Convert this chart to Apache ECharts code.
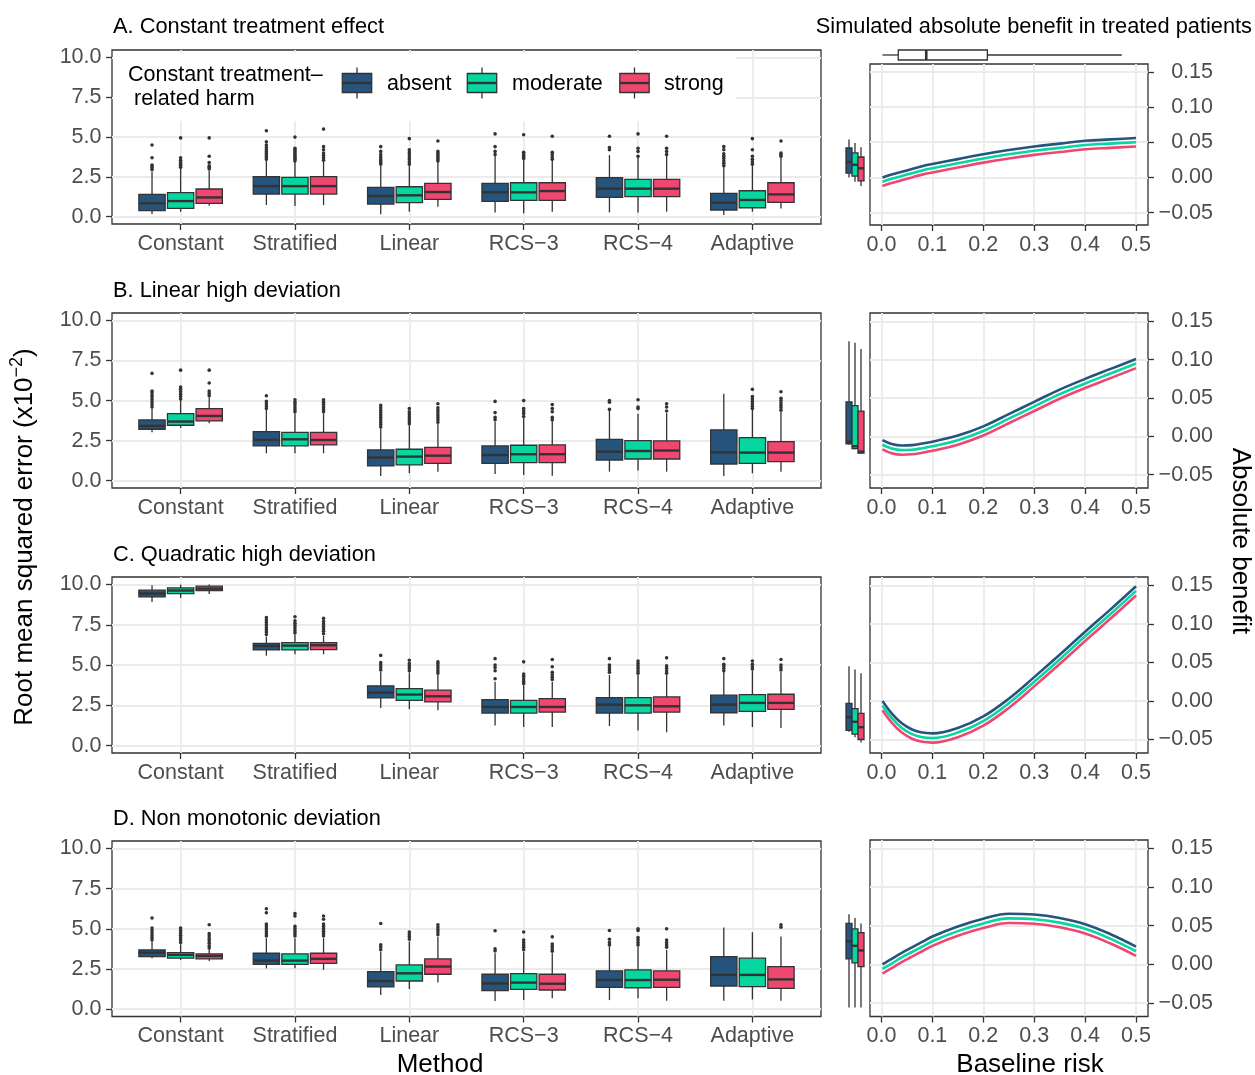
<!DOCTYPE html>
<html><head><meta charset="utf-8">
<script src="https://cdn.jsdelivr.net/npm/echarts@6/dist/echarts.min.js"></script>
<style>html,body{margin:0;padding:0;background:#fff}#c{width:1255px;height:1075px}</style>
</head><body><div id="c"></div>
<script>
// ---------- categories / labels ----------
const methods = ['Constant','Stratified','Linear','RCS\u22123','RCS\u22124','Adaptive'];
const harmLevels = ['absent','moderate','strong'];
const harmColors = ['#26547C','#06D6A0','#EF476F'];
const panelTitles = ['A. Constant treatment effect','B. Linear high deviation','C. Quadratic high deviation','D. Non monotonic deviation'];
const rightTitle = 'Simulated absolute benefit in treated patients';
const rmseTicks = [0, 2.5, 5, 7.5, 10];
const riskTicks = [0, 0.1, 0.2, 0.3, 0.4, 0.5];
const benefitTicks = [-0.05, 0, 0.05, 0.10, 0.15];

// ---------- box statistics [lower whisker, Q1, median, Q3, upper whisker], RMSE x10^-2 ----------
const boxA_absent   = [[0.17,0.38,0.84,1.40,2.82],[0.73,1.42,1.92,2.51,3.51],[0.15,0.79,1.30,1.84,3.18],[0.27,0.96,1.53,2.09,3.87],[0.27,1.21,1.76,2.45,3.87],[0.10,0.42,0.88,1.46,3.14]];
const boxA_moderate = [[0.31,0.52,0.98,1.51,3.03],[0.67,1.42,1.92,2.47,3.45],[0.31,0.88,1.34,1.88,3.24],[0.21,1.03,1.53,2.13,3.60],[0.27,1.26,1.76,2.34,3.77],[0.31,0.56,1.05,1.63,3.24]];
const boxA_strong   = [[0.69,0.84,1.21,1.74,2.89],[0.73,1.42,1.92,2.51,3.51],[0.63,1.09,1.55,2.09,3.45],[0.31,1.03,1.61,2.13,3.56],[0.31,1.26,1.76,2.34,3.87],[0.52,0.90,1.40,2.13,3.77]];
const boxB_absent   = [[3.02,3.21,3.42,3.79,4.52],[1.71,2.17,2.54,3.06,4.42],[0.29,0.92,1.44,1.92,3.27],[0.42,1.08,1.60,2.17,3.69],[0.56,1.29,1.81,2.58,4.35],[0.29,1.04,1.77,3.17,5.42]];
const boxB_moderate = [[3.29,3.46,3.69,4.19,5.04],[1.71,2.17,2.58,3.02,4.21],[0.46,0.98,1.50,1.96,3.48],[0.35,1.13,1.65,2.21,3.90],[0.63,1.35,1.85,2.50,4.17],[0.46,1.08,1.75,2.69,4.42]];
const boxB_strong   = [[3.58,3.73,4.04,4.50,5.21],[1.71,2.23,2.54,3.02,4.21],[0.56,1.08,1.56,2.08,3.58],[0.31,1.13,1.65,2.23,3.73],[0.56,1.35,1.88,2.48,4.21],[0.56,1.19,1.75,2.44,4.31]];
const boxC_absent   = [[8.92,9.23,9.44,9.65,9.96],[5.58,5.94,6.19,6.35,6.77],[2.33,2.96,3.29,3.71,4.58],[1.25,2.02,2.40,2.85,3.96],[1.21,2.02,2.54,2.98,4.38],[1.25,2.04,2.54,3.13,4.58]];
const boxC_moderate = [[9.17,9.44,9.63,9.79,10.0],[5.67,5.94,6.21,6.40,6.88],[2.25,2.81,3.17,3.54,4.54],[1.15,2.02,2.40,2.81,3.75],[0.94,2.02,2.50,2.98,4.38],[1.15,2.13,2.65,3.17,4.63]];
const boxC_strong   = [[9.42,9.63,9.75,9.90,10.0],[5.67,5.96,6.23,6.40,6.81],[2.19,2.71,3.06,3.44,4.38],[1.15,2.08,2.40,2.92,3.96],[0.83,2.08,2.44,3.02,4.38],[1.10,2.25,2.65,3.19,4.58]];
const boxD_absent   = [[3.17,3.27,3.52,3.69,4.21],[2.54,2.79,3.02,3.48,4.42],[0.88,1.38,1.75,2.33,3.58],[0.50,1.15,1.60,2.17,3.48],[0.56,1.35,1.81,2.38,3.90],[0.52,1.44,2.13,3.27,5.08]];
const boxD_moderate = [[3.06,3.17,3.38,3.52,4.04],[2.54,2.79,3.02,3.44,4.42],[1.25,1.75,2.23,2.75,4.21],[0.56,1.23,1.65,2.21,3.58],[0.67,1.33,1.81,2.44,3.90],[0.60,1.40,2.13,3.17,4.79]];
const boxD_strong   = [[3.00,3.13,3.31,3.44,3.69],[2.44,2.85,3.13,3.48,4.42],[1.65,2.17,2.65,3.13,4.52],[0.67,1.19,1.58,2.17,3.48],[0.52,1.35,1.83,2.38,3.69],[0.52,1.29,1.85,2.65,4.52]];

// ---------- outliers per method ----------
const outA_absent   = [[2.95,3.05,3.15,3.25,3.7,4.5],[3.6,3.7,3.8,3.9,4.0,4.1,4.2,4.35,4.5,4.7,5.4],[3.3,3.4,3.5,3.6,3.75,3.9,4.1,4.4],[3.9,4.1,4.4,5.2],[4.2,4.35,5.05],[3.2,3.35,3.5,3.65,3.8,3.95,4.2,4.4]];
const outA_moderate = [[3.1,3.2,3.3,3.4,3.55,3.7,4.95],[3.5,3.6,3.7,3.8,3.9,4.0,4.1,4.2,4.3,5.0],[3.3,3.45,3.6,3.75,3.9,4.05,4.2,4.9],[3.65,3.75,3.85,3.95,4.05,5.15],[3.8,4.1,4.3,5.2],[3.3,3.45,3.6,3.8,4.2,4.9]];
const outA_strong   = [[3.0,3.1,3.2,3.4,3.8,4.95],[3.55,3.7,3.85,4.0,4.2,4.4,5.5],[3.5,3.6,3.7,3.8,3.9,4.0,4.1,4.75],[3.6,3.75,3.9,4.05,5.05],[3.9,4.1,4.3,5.05],[3.8,3.9,4.0,4.75]];
const outB_absent   = [[4.6,4.75,4.9,5.05,5.2,5.35,5.5,5.6,6.7],[4.5,4.65,4.8,4.95,5.3],[3.35,3.5,3.65,3.8,3.95,4.1,4.25,4.4,4.55,4.7],[3.8,3.95,4.25,4.95],[4.45,4.9,5.0],[]];
const outB_moderate = [[5.1,5.25,5.4,5.55,5.7,5.85,6.9],[4.3,4.45,4.6,4.75,4.9,5.05],[3.55,3.7,3.85,4.0,4.15,4.3,4.5],[4.0,4.2,4.35,4.5,5.0],[4.5,4.6,5.05],[4.5,4.65,4.8,4.95,5.1,5.25,5.7]];
const outB_strong   = [[5.3,5.45,5.6,6.1,6.9],[4.3,4.45,4.6,4.75,4.9,5.05],[3.65,3.8,3.95,4.1,4.25,4.4,4.55,4.8],[3.8,3.95,4.3,4.5,4.75],[4.35,4.6,4.8],[4.4,4.55,4.7,4.85,5.0,5.15,5.55]];
const outC_absent   = [[],[6.9,7.05,7.2,7.35,7.5,7.65,7.8,7.95],[4.7,4.85,5.0,5.15,5.6],[4.15,4.65,4.85,5.0,5.4],[4.55,4.7,4.85,5.0,5.4],[4.65,4.8,4.95,5.05,5.4]];
const outC_moderate = [[],[7.0,7.15,7.3,7.45,7.6,7.75,8.0],[4.65,4.8,4.95,5.1,5.3],[3.85,4.0,4.15,4.3,4.45,5.2],[4.5,4.65,4.8,4.95,5.1,5.25],[4.75,4.9,5.05,5.25]];
const outC_strong   = [[],[6.95,7.1,7.25,7.4,7.55,7.7,7.9],[4.5,4.65,4.8,4.95,5.1,5.2],[4.1,4.25,4.4,4.55,4.9,5.35],[4.5,4.65,4.8,4.95,5.45],[4.7,4.85,5.0,5.35]];
const outD_absent   = [[4.3,4.45,4.6,4.75,4.9,5.05,5.67],[4.55,4.7,4.85,5.0,5.15,5.3,6.0,6.25],[3.7,3.85,4.0,5.33],[3.62,3.75,4.88],[4.0,4.15,4.35,4.9],[]];
const outD_moderate = [[4.15,4.3,4.45,4.6,4.75,4.9,5.05],[4.55,4.7,4.85,5.0,5.15,5.8,5.95],[4.35,4.5,4.65,4.8],[3.7,3.85,4.0,4.15,4.3,4.8],[4.0,4.15,4.3,4.45,4.9,5.0],[]];
const outD_strong   = [[3.8,3.95,4.1,4.25,4.4,4.55,4.7,5.25],[4.55,4.7,4.85,5.0,5.15,5.3,5.6,5.8],[4.65,4.8,4.95,5.1,5.25],[3.6,3.75,3.9,4.05,4.5],[3.85,4.0,4.15,4.3,5.0],[5.1,5.25]];

// ---------- absolute benefit curves ----------
const riskGrid = [0.002,0.02,0.04,0.06,0.08,0.1,0.15,0.2,0.25,0.3,0.35,0.4,0.45,0.5];
const benefitA_absent   = [0.000,0.004,0.008,0.012,0.016,0.019,0.026,0.033,0.039,0.044,0.048,0.052,0.054,0.056];
const benefitA_moderate = [-0.006,-0.002,0.002,0.006,0.010,0.013,0.020,0.027,0.033,0.038,0.042,0.046,0.048,0.050];
const benefitA_strong   = [-0.012,-0.008,-0.004,0.000,0.004,0.007,0.014,0.021,0.027,0.032,0.036,0.040,0.042,0.044];
const benefitB_absent   = [-0.005,-0.010,-0.012,-0.0115,-0.0095,-0.007,0.001,0.013,0.029,0.045,0.061,0.075,0.088,0.101];
const benefitB_moderate = [-0.011,-0.016,-0.018,-0.0175,-0.0155,-0.013,-0.005,0.007,0.023,0.039,0.055,0.069,0.082,0.095];
const benefitB_strong   = [-0.017,-0.022,-0.024,-0.0235,-0.0215,-0.019,-0.011,0.001,0.017,0.033,0.049,0.063,0.076,0.089];
const benefitC_absent   = [0.000,-0.016,-0.029,-0.037,-0.041,-0.042,-0.035,-0.020,0.003,0.031,0.060,0.090,0.119,0.149];
const benefitC_moderate = [-0.006,-0.022,-0.035,-0.043,-0.047,-0.048,-0.041,-0.026,-0.003,0.025,0.054,0.084,0.113,0.143];
const benefitC_strong   = [-0.012,-0.028,-0.041,-0.049,-0.053,-0.054,-0.047,-0.032,-0.009,0.019,0.048,0.078,0.107,0.137];
const benefitD_absent   = [0.000,0.007,0.015,0.022,0.029,0.036,0.049,0.059,0.0655,0.0645,0.060,0.052,0.039,0.023];
const benefitD_moderate = [-0.006,0.001,0.009,0.016,0.023,0.030,0.043,0.053,0.0595,0.0585,0.054,0.046,0.033,0.017];
const benefitD_strong   = [-0.012,-0.005,0.003,0.010,0.017,0.024,0.037,0.047,0.0535,0.0525,0.048,0.040,0.027,0.011];

// ---------- marginal distributions of benefit (absent, moderate, strong) ----------
const margA = [[0.000,0.006,0.022,0.042,0.054],[-0.006,0.002,0.018,0.035,0.049],[-0.012,-0.005,0.013,0.029,0.043]];
const margB = [[-0.011,-0.010,-0.007,0.045,0.124],[-0.017,-0.016,-0.013,0.040,0.122],[-0.023,-0.022,-0.020,0.033,0.114]];
const margC = [[-0.040,-0.038,-0.021,-0.003,0.045],[-0.047,-0.043,-0.027,-0.010,0.041],[-0.054,-0.050,-0.034,-0.016,0.036]];
const margD = [[-0.056,0.007,0.030,0.053,0.065],[-0.056,0.002,0.024,0.046,0.060],[-0.056,-0.003,0.018,0.041,0.053]];
// baseline risk distribution
const riskBox = [0.002,0.033,0.088,0.208,0.472];

// ---------- assembly ----------
const rows = [
  {box:[boxA_absent,boxA_moderate,boxA_strong], out:[outA_absent,outA_moderate,outA_strong], ben:[benefitA_absent,benefitA_moderate,benefitA_strong], marg:margA},
  {box:[boxB_absent,boxB_moderate,boxB_strong], out:[outB_absent,outB_moderate,outB_strong], ben:[benefitB_absent,benefitB_moderate,benefitB_strong], marg:margB},
  {box:[boxC_absent,boxC_moderate,boxC_strong], out:[outC_absent,outC_moderate,outC_strong], ben:[benefitC_absent,benefitC_moderate,benefitC_strong], marg:margC},
  {box:[boxD_absent,boxD_moderate,boxD_strong], out:[outD_absent,outD_moderate,outD_strong], ben:[benefitD_absent,benefitD_moderate,benefitD_strong], marg:margD}
];

const FONT = '"Liberation Sans", Arial, Helvetica, sans-serif';
const INK = '#333333', TICKTXT = '#4D4D4D', GRIDC = '#EBEBEB';
const FS = 21.5, FS_HEAD = 21.8, FS_TITLE = 26;
const leftPanels  = [{top:50,height:174},{top:313,height:175},{top:577,height:176},{top:841,height:175.5}];
const rightPanels = [{top:64,height:161},{top:313,height:175},{top:577,height:176},{top:840,height:176.5}];
const titleTops = [16, 280, 544, 808];

function boxRenderer(offset, halfW, colorOf, outs){
  return function(params, api){
    const x = api.value(0) + offset;
    const lo = api.coord([x, api.value(1)]), q1 = api.coord([x, api.value(2)]);
    const md = api.coord([x, api.value(3)]), q3 = api.coord([x, api.value(4)]);
    const hi = api.coord([x, api.value(5)]);
    const l = api.coord([x - halfW, api.value(3)])[0], r = api.coord([x + halfW, api.value(3)])[0];
    const color = colorOf(params.dataIndex);
    const ch = [
      {type:'line', shape:{x1:lo[0], y1:lo[1], x2:lo[0], y2:q1[1]}, style:{stroke:INK, lineWidth:1.3}},
      {type:'line', shape:{x1:hi[0], y1:hi[1], x2:hi[0], y2:q3[1]}, style:{stroke:INK, lineWidth:1.3}},
      {type:'rect', shape:{x:l, y:q3[1], width:r-l, height:q1[1]-q3[1]}, style:{fill:color, stroke:INK, lineWidth:1.3}},
      {type:'line', shape:{x1:l, y1:md[1], x2:r, y2:md[1]}, style:{stroke:INK, lineWidth:2.4}}
    ];
    if (outs) outs[params.dataIndex].forEach(v => {
      const p = api.coord([x, v]);
      ch.push({type:'circle', shape:{cx:p[0], cy:p[1], r:1.8}, style:{fill:INK}});
    });
    return {type:'group', children:ch};
  };
}

const grids = [], xAxes = [], yAxes = [], series = [];
const tickLbl = {color:TICKTXT, fontSize:FS, fontFamily:FONT};
const noLine = {show:false, onZero:false};
const tickStyle = {color:INK, width:1.3};
const gridLineStyle = {color:GRIDC, width:1.8};

leftPanels.forEach((p, r) => {
  grids.push({left:112, width:709, top:p.top, height:p.height, show:true, borderColor:INK, borderWidth:1.3, backgroundColor:'#fff'});
  xAxes.push({gridIndex:r, type:'value', position:'bottom', min:0.4, max:6.6,
    axisLine:noLine,
    axisTick:{show:true, inside:false, length:6, lineStyle:tickStyle, customValues:[1,2,3,4,5,6]},
    axisLabel:Object.assign({customValues:[1,2,3,4,5,6], margin:9, formatter:v => methods[Math.round(v)-1]}, tickLbl),
    splitLine:{show:true, lineStyle:gridLineStyle}});
  yAxes.push({gridIndex:r, type:'value', position:'left', min:-0.46, max:10.47,
    axisLine:noLine,
    axisTick:{show:true, inside:false, length:6, lineStyle:tickStyle, customValues:rmseTicks},
    axisLabel:Object.assign({customValues:rmseTicks, margin:10.5, formatter:v => v.toFixed(1)}, tickLbl),
    splitLine:{show:true, lineStyle:gridLineStyle}});
});
rightPanels.forEach((p, r) => {
  grids.push({left:870, width:278, top:p.top, height:p.height, show:true, borderColor:INK, borderWidth:1.3, backgroundColor:'#fff'});
  xAxes.push({gridIndex:4+r, type:'value', position:'bottom', min:-0.0225, max:0.5235,
    axisLine:noLine,
    axisTick:{show:true, inside:false, length:6, lineStyle:tickStyle, customValues:riskTicks},
    axisLabel:Object.assign({customValues:riskTicks, margin:9, formatter:v => v.toFixed(1)}, tickLbl),
    splitLine:{show:true, lineStyle:gridLineStyle}});
  yAxes.push({gridIndex:4+r, type:'value', position:'right', min:-0.0675, max:0.161,
    axisLine:noLine,
    axisTick:{show:true, inside:false, length:6, lineStyle:tickStyle, customValues:benefitTicks},
    axisLabel:Object.assign({customValues:benefitTicks, margin:65, align:'right',
      formatter:v => (v < -1e-9 ? '\u2212' : '') + Math.abs(v).toFixed(2)}, tickLbl),
    splitLine:{show:true, lineStyle:gridLineStyle}});
});
rightPanels.forEach((p, r) => {
  grids.push({left:843, width:24, top:p.top, height:p.height});
  xAxes.push({gridIndex:8+r, type:'value', min:0, max:4, show:false});
  yAxes.push({gridIndex:8+r, type:'value', min:-0.0675, max:0.161, show:false});
});
grids.push({left:870, width:278, top:45, height:20});
xAxes.push({gridIndex:12, type:'value', min:-0.0225, max:0.5235, show:false});
yAxes.push({gridIndex:12, type:'value', min:0, max:2, show:false});

rows.forEach((row, r) => {
  harmLevels.forEach((lvl, g) => {
    series.push({type:'custom', name:lvl, xAxisIndex:r, yAxisIndex:r, z:3, silent:true,
      data: row.box[g].map((s, i) => [i+1].concat(s)),
      renderItem: boxRenderer((g-1)*0.25, 0.115, () => harmColors[g], row.out[g])});
    series.push({type:'line', name:lvl, xAxisIndex:4+r, yAxisIndex:4+r, z:3, silent:true,
      data: riskGrid.map((x, i) => [x, row.ben[g][i]]),
      smooth:0.4, showSymbol:false, symbol:'none',
      lineStyle:{width:2.6, color:harmColors[g]}, itemStyle:{color:harmColors[g]}});
  });
  series.push({type:'custom', xAxisIndex:8+r, yAxisIndex:8+r, z:3, silent:true,
    data: row.marg.map((s, g) => [g+1].concat(s)),
    renderItem: boxRenderer(0, 0.5, i => harmColors[i], null)});
});
series.push({type:'custom', xAxisIndex:12, yAxisIndex:12, silent:true, data:[riskBox],
  renderItem: function(params, api){
    const lo = api.coord([api.value(0), 1]), q1 = api.coord([api.value(1), 1]);
    const md = api.coord([api.value(2), 1]), q3 = api.coord([api.value(3), 1]);
    const hi = api.coord([api.value(4), 1]);
    const t = api.coord([api.value(2), 1.5])[1], b = api.coord([api.value(2), 0.5])[1];
    return {type:'group', children:[
      {type:'line', shape:{x1:lo[0], y1:lo[1], x2:q1[0], y2:lo[1]}, style:{stroke:INK, lineWidth:1.3}},
      {type:'line', shape:{x1:q3[0], y1:lo[1], x2:hi[0], y2:lo[1]}, style:{stroke:INK, lineWidth:1.3}},
      {type:'rect', shape:{x:q1[0], y:t, width:q3[0]-q1[0], height:b-t}, style:{fill:'#fff', stroke:INK, lineWidth:1.3}},
      {type:'line', shape:{x1:md[0], y1:t, x2:md[0], y2:b}, style:{stroke:INK, lineWidth:2.6}}
    ]};
  }});

const titles = panelTitles.map((t, i) => ({text:t, left:113, top:titleTops[i], padding:0,
  textStyle:{fontSize:FS_HEAD, fontWeight:'normal', color:'#000', fontFamily:FONT, lineHeight:22}}));
titles.push({text:rightTitle, right:3, top:titleTops[0], padding:0,
  textStyle:{fontSize:FS_HEAD, fontWeight:'normal', color:'#000', fontFamily:FONT, lineHeight:22}});

// legend (drawn as graphic, inside panel A)
const legendCenters = [357, 482, 634.5];
const legendLabelX = [387, 512, 664];
const graphics = [
  {type:'rect', shape:{x:113.5, y:53, width:622, height:68}, style:{fill:'#fff'}, z:50},
  {type:'text', x:128, y:63.5, z:51, style:{text:'Constant treatment\u2013\n related harm', fontSize:FS, fontFamily:FONT, fill:'#000', lineHeight:24, verticalAlign:'top'}}
];
harmLevels.forEach((lvl, g) => {
  const c = legendCenters[g];
  graphics.push({type:'line', z:51, shape:{x1:c, y1:67.5, x2:c, y2:98.5}, style:{stroke:INK, lineWidth:1.3}});
  graphics.push({type:'rect', z:52, shape:{x:c-14.7, y:73.5, width:29.4, height:19}, style:{fill:harmColors[g], stroke:INK, lineWidth:1.3}});
  graphics.push({type:'line', z:53, shape:{x1:c-14.7, y1:83, x2:c+14.7, y2:83}, style:{stroke:INK, lineWidth:2.4}});
  graphics.push({type:'text', z:51, x:legendLabelX[g], y:84.5, style:{text:lvl, fontSize:FS, fontFamily:FONT, fill:'#000', verticalAlign:'middle'}});
});
graphics.push({type:'text', z:51, x:440, y:1065, style:{text:'Method', fontSize:FS_TITLE, fontFamily:FONT, fill:'#000', align:'center', verticalAlign:'middle'}});
graphics.push({type:'text', z:51, x:1030, y:1065, style:{text:'Baseline risk', fontSize:FS_TITLE, fontFamily:FONT, fill:'#000', align:'center', verticalAlign:'middle'}});
graphics.push({type:'text', z:51, x:25, y:537, rotation:Math.PI/2, style:{text:'Root mean squared error (x10{sup|\u22122})', fontSize:FS_TITLE, fontFamily:FONT, fill:'#000', align:'center', verticalAlign:'middle',
  rich:{sup:{fontSize:18, fontFamily:FONT, fill:'#000', verticalAlign:'top', lineHeight:34}}}});
graphics.push({type:'text', z:51, x:1240, y:541, rotation:-Math.PI/2, style:{text:'Absolute benefit', fontSize:FS_TITLE, fontFamily:FONT, fill:'#000', align:'center', verticalAlign:'middle'}});

const chart = echarts.init(document.getElementById('c'), null, {renderer:'canvas'});
chart.setOption({
  animation:false,
  backgroundColor:'#fff',
  textStyle:{fontFamily:FONT},
  title:titles,
  grid:grids,
  xAxis:xAxes,
  yAxis:yAxes,
  series:series,
  graphic:{elements:graphics}
});
</script>
</body></html>
